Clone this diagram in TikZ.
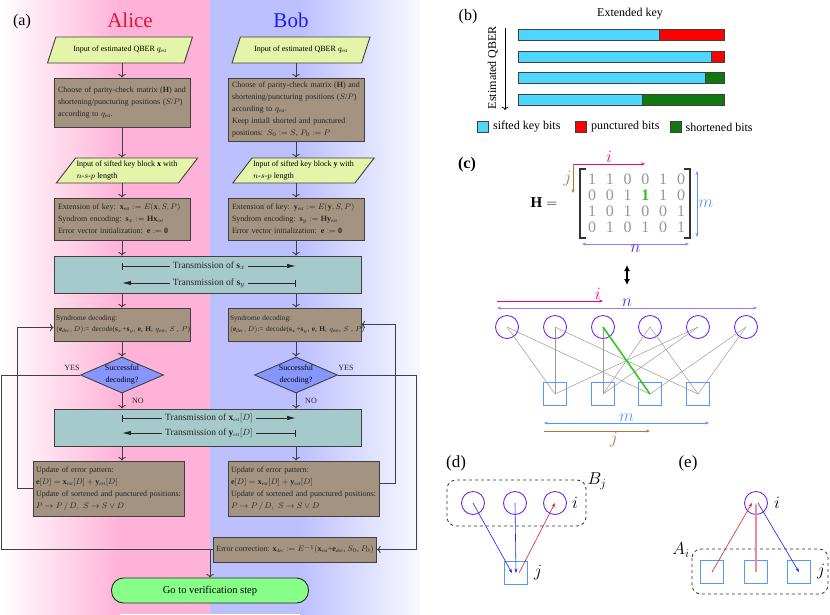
\documentclass[tikz,border=0pt]{standalone}
\usepackage{fontspec}
\setmainfont{Liberation Serif}
\usetikzlibrary{positioning, shapes.geometric, arrows.meta}
\definecolor{pinkbg}{RGB}{255,178,215}
\definecolor{bluebg}{RGB}{188,192,255}
\definecolor{ioyellow}{RGB}{228,244,168}
\definecolor{procbrown}{RGB}{163,147,128}
\definecolor{transteal}{RGB}{166,202,204}
\definecolor{decblue}{RGB}{135,150,255}
\definecolor{goalgreen}{RGB}{136,255,136}
\definecolor{boxline}{RGB}{64,64,64}
\definecolor{alicered}{RGB}{225,20,60}
\definecolor{bobblue}{RGB}{30,30,240}
\definecolor{sifted}{RGB}{77,215,255}
\definecolor{punc}{RGB}{255,0,0}
\definecolor{shortgreen}{RGB}{16,120,16}
\definecolor{hgray}{RGB}{150,150,150}
\definecolor{hgreen}{RGB}{40,200,20}
\definecolor{vcol}{RGB}{110,40,240}
\definecolor{ccol}{RGB}{80,155,255}
\definecolor{ncol}{RGB}{150,120,255}
\definecolor{nlab}{RGB}{90,40,230}
\definecolor{jcol}{RGB}{170,120,60}
\definecolor{mcol}{RGB}{80,150,255}
\definecolor{redarr}{RGB}{220,30,60}
\definecolor{bluearr}{RGB}{30,30,255}
\definecolor{pinkarr}{RGB}{240,140,160}
\newcommand{\bxfont}{\fontsize{8}{12}\selectfont}
\newcommand{\sdfont}{\fontsize{7.3}{11}\selectfont}
\newcommand{\pnfont}{\fontsize{16}{16}\selectfont}
\newcommand{\sbt}[1]{\mbox{\fontsize{5}{5}\selectfont\itshape #1}}

\begin{document}
\begin{tikzpicture}[
  x=1pt, y=-1pt, >=To,
  io/.style={trapezium, trapezium left angle=48, trapezium right angle=132, trapezium stretches body,
    draw=boxline, fill=ioyellow, line width=0.9pt, font=\bxfont, align=left, inner sep=1pt},
  proc/.style={rectangle, draw=boxline, fill=procbrown, line width=0.9pt, font=\bxfont, text=black!85,
    align=left, inner xsep=4pt, inner ysep=2pt},
  trans/.style={rectangle, draw=boxline, fill=transteal, line width=0.9pt, minimum width=307pt, minimum height=37pt},
  txlbl/.style={fill=transteal, inner xsep=3pt, inner ysep=1pt, font=\fontsize{9.5}{10}\selectfont, text=black!85},
  txr/.style={line width=0.9pt, draw=black!85, {Bar[width=7pt]}-{Latex[length=9pt,width=4.5pt]}},
  txl/.style={line width=0.9pt, draw=black!85, {Latex[length=9pt,width=4.5pt]}-{Bar[width=7pt]}},
  decide/.style={diamond, draw=boxline, fill=decblue, line width=0.9pt, font=\bxfont, align=center,
    aspect=2.3, inner sep=0pt, minimum width=83pt, minimum height=36pt},
  goal/.style={rectangle, rounded corners=12pt, draw=black!85, fill=goalgreen, line width=0.9pt,
    minimum width=197pt, minimum height=25pt, font=\fontsize{10.5}{11}\selectfont},
  flow/.style={->, line width=0.9pt, draw=boxline},
  link/.style={line width=0.9pt, draw=boxline},
  yn/.style={font=\bxfont, text=black!85},
  barline/.style={draw=black!75, line width=0.9pt},
  legbox/.style={draw=black!75, line width=0.8pt, minimum size=11pt, inner sep=0pt},
  legtxt/.style={font=\fontsize{12}{12}\selectfont, inner sep=1pt},
  hent/.style={text=hgray, font=\fontsize{16}{16}\selectfont, inner sep=0pt},
  hsel/.style={text=hgreen, font=\fontsize{16}{16}\selectfont\bfseries, inner sep=0pt},
  brk/.style={draw=black!80, line width=1.1pt},
  iarr/.style={draw=magenta, line width=0.6pt, -{Stealth[length=4pt,width=3pt]}},
  jarr/.style={draw=jcol, line width=0.6pt, -{Stealth[length=4pt,width=3pt]}},
  marr/.style={draw=mcol, line width=0.6pt, {Stealth[length=4pt,width=3pt]}-{Stealth[length=4pt,width=3pt]}},
  narr/.style={draw=ncol, line width=0.8pt, {Stealth[length=4pt,width=3pt]}-{Stealth[length=4pt,width=3pt]}},
  lab/.style={font=\pnfont, inner sep=1pt},
  vnode/.style={circle, draw=vcol, line width=0.9pt, minimum size=23pt, inner sep=0pt},
  cnode/.style={rectangle, draw=ccol, line width=0.9pt, minimum size=23pt, inner sep=0pt},
  tedge/.style={draw=gray!80, line width=0.5pt},
  tsel/.style={draw=hgreen, line width=1.5pt},
  grp/.style={draw=black!80, dashed, line width=0.8pt, rounded corners=9pt},
  msg/.style={line width=0.6pt, -{Stealth[length=4.5pt,width=3pt]}}]
  \useasboundingbox (0,0) rectangle (830,614);
  % backgrounds of the two parties
  \shade[left color=white, right color=pinkbg] (0,0) rectangle (120,614);
  \fill[pinkbg] (120,0) rectangle (210,614);
  \fill[bluebg] (210,0) rectangle (300,614);
  \shade[left color=bluebg, right color=white!90!bluebg] (300,0) rectangle (420,614);
  % (a) titles
  \node[font=\pnfont] (lbla) at (22,22) {(a)};
  \node[font=\fontsize{21}{21}\selectfont, text=alicered] (alice) at (130,20) {Alice};
  \node[font=\fontsize{21}{21}\selectfont, text=bobblue] (bob) at (291,20) {Bob};
  % Alice column
  \node[io, minimum width=145pt, minimum height=26pt] (inA) at (120,50) {Input of estimated QBER $q_{\sbt{est}}$};
  \node[proc, minimum width=136pt, minimum height=49pt, text width=128pt] (chA) at (122,102.5)
    {Choose of parity-check matrix ($\mathbf{H}$) and\\ shortening/puncturing positions ($S$/$P$)\\ according to $q_{\sbt{est}}$.};
  \node[io, minimum width=135pt, minimum height=25pt] (kyA) at (127,170.5)
    {Input of sifted key block $\mathbf{x}$ with\\ $n$-$s$-$p$ length};
  \node[proc, minimum width=136pt, minimum height=42pt, text width=128pt] (exA) at (122,219)
    {Extension of key: $\mathbf{x}_{\sbt{ext}} := E(\mathbf{x}, S, P)$\\ Syndrom encoding: $\mathbf{s}_x := \mathbf{H}\mathbf{x}_{\sbt{ext}}$\\ Error vector initialization: $\mathbf{e} := \mathbf{0}$};
  \node[proc, font=\sdfont, minimum width=136pt, minimum height=33pt, text width=132pt, inner xsep=2pt] (sdA) at (122,324.5)
    {Syndrome decoding:\\ \mbox{$(\mathbf{e}_{\sbt{dec}}, D)$:= decode($\mathbf{s}_x$+$\mathbf{s}_y$, $\mathbf{e}$, $\mathbf{H}$, $q_{\sbt{est}}$, $S$ , $P$)}};
  \node[decide] (dA) at (122,375) {Successful\\ decoding?};
  \node[proc, minimum width=151pt, minimum height=55pt, text width=145pt, inner xsep=3pt] (upA) at (108.5,488.5)
    {Update of error pattern:\\ $\mathbf{e}[D] = \mathbf{x}_{\sbt{ext}}[D] + \mathbf{y}_{\sbt{ext}}[D]$\\ \mbox{Update of sortened and punctured positions:}\\ $P \rightarrow P \,/\, D,\ S \rightarrow S \vee D$};
  % Bob column
  \node[io, minimum width=138pt, minimum height=26pt] (inB) at (301,50) {Input of estimated QBER $q_{\sbt{est}}$};
  \node[proc, minimum width=136pt, minimum height=63pt, text width=128pt] (chB) at (296,109.5)
    {Choose of parity-check matrix ($\mathbf{H}$) and\\ shortening/puncturing positions ($S$/$P$)\\ according to $q_{\sbt{est}}$.\\ Keep intiall shorted and punctured\\ positions: $S_0 := S$, $P_0 := P$};
  \node[io, minimum width=127pt, minimum height=25pt] (kyB) at (303.5,170.5)
    {Input of sifted key block $\mathbf{y}$ with\\ $n$-$s$-$p$ length};
  \node[proc, minimum width=136pt, minimum height=42pt, text width=128pt] (exB) at (296,219)
    {Extension of key: $\mathbf{y}_{\sbt{ext}} := E(\mathbf{y}, S, P)$\\ Syndrom encoding: $\mathbf{s}_y := \mathbf{H}\mathbf{y}_{\sbt{ext}}$\\ Error vector initialization: $\mathbf{e} := \mathbf{0}$};
  \node[proc, font=\sdfont, minimum width=133pt, minimum height=33pt, text width=129pt, inner xsep=2pt] (sdB) at (294.5,324.5)
    {Syndrome decoding:\\ \mbox{$(\mathbf{e}_{\sbt{dec}}, D)$:= decode($\mathbf{s}_x$+$\mathbf{s}_y$, $\mathbf{e}$, $\mathbf{H}$, $q_{\sbt{est}}$, $S$ , $P$)}};
  \node[decide] (dB) at (296,375) {Successful\\ decoding?};
  \node[proc, minimum width=151pt, minimum height=55pt, text width=145pt, inner xsep=3pt] (upB) at (303.5,488.5)
    {Update of error pattern:\\ $\mathbf{e}[D] = \mathbf{x}_{\sbt{ext}}[D] + \mathbf{y}_{\sbt{ext}}[D]$\\ \mbox{Update of sortened and punctured positions:}\\ $P \rightarrow P \,/\, D,\ S \rightarrow S \vee D$};
  \node[proc, minimum width=144pt, minimum height=25pt, inner xsep=3pt] (ec) at (295,549.5)
    {Error correction: $\mathbf{x}_{\sbt{dec}} := E^{-1}(\mathbf{x}_{\sbt{ext}}$+$\mathbf{e}_{\sbt{dec}}$, $S_0$, $P_0)$};
  % shared boxes
  \node[trans] (tr1) at (207.5,274.5) {};
  \node[trans] (tr2) at (207.5,427.5) {};
  \node[goal] (go) at (210,590.5) {Go to verification step};
  % messages between the parties
  \coordinate (sxL) at (122,266); \coordinate (sxR) at (296,266);
  \coordinate (syL) at (122,283); \coordinate (syR) at (296,283);
  \coordinate (xdL) at (122,418); \coordinate (xdR) at (296,418);
  \coordinate (ydL) at (122,433); \coordinate (ydR) at (296,433);
  \draw[txr] (sxL) -- node[txlbl] {Transmission of $\mathbf{s}_x$} (sxR);
  \draw[txl] (syL) -- node[txlbl] {Transmission of $\mathbf{s}_y$} (syR);
  \draw[txr] (xdL) -- node[txlbl] {Transmission of $\mathbf{x}_{\sbt{ext}}[D]$} (xdR);
  \draw[txl] (ydL) -- node[txlbl] {Transmission of $\mathbf{y}_{\sbt{ext}}[D]$} (ydR);
  % main flow
  \draw[flow] (inA.south -| chA) -- (chA.north);
  \draw[flow] (chA.south) -- (kyA.north -| chA);
  \draw[flow] (kyA.south -| chA) -- (exA.north);
  \draw[flow] (exA.south) -- (tr1.north -| exA);
  \draw[flow] (tr1.south -| sdA) -- (sdA.north);
  \draw[flow] (sdA.south) -- (dA.north);
  \draw[flow] (dA.south) -- (tr2.north -| dA);
  \draw[flow] (tr2.south -| dA) -- (upA.north -| dA);
  \draw[flow] (inB.south -| chB) -- (chB.north);
  \draw[flow] (chB.south) -- (kyB.north -| chB);
  \draw[flow] (kyB.south -| chB) -- (exB.north);
  \draw[flow] (exB.south) -- (tr1.north -| exB);
  \draw[flow] (tr1.south -| dB) -- (sdB.north -| dB);
  \draw[flow] (sdB.south -| dB) -- (dB.north);
  \draw[flow] (dB.south) -- (tr2.north -| dB);
  \draw[flow] (tr2.south -| dB) -- (upB.north -| dB);
  % loops and exits
  \coordinate (lx1) at (1,0); \coordinate (lx2) at (17,0);
  \coordinate (rx1) at (416,0); \coordinate (rx2) at (395,0);
  \coordinate (sdAin) at ([yshift=-3pt]sdA.west);
  \coordinate (upBout) at ([yshift=5pt]upB.east);
  \draw[link] (dA.west) -- (dA.west -| lx1) |- (ec.west);
  \draw[flow] (ec.west -| go) -- (go.north);
  \draw[flow] (dB.east) -- (dB.east -| rx1) |- (ec.east);
  \draw[flow] (upA.west) -- (upA.west -| lx2) |- (sdAin);
  \draw[flow] (upBout) -- (upBout -| rx2) |- (sdB.east);
  \node[yn] (yesA) at (72,368) {YES};
  \node[yn] (yesB) at (346,368) {YES};
  \node[yn] (noA) at (138,401) {NO};
  \node[yn] (noB) at (311,401) {NO};
  % (b) extended key
  \node[font=\pnfont] (lblb) at (468,17) {(b)};
  \node[legtxt] (extkey) at (630,14) {Extended key};
  \foreach \y/\s/\c in {35/659/punc, 56.5/711/punc, 78/705/shortgreen, 99.5/642/shortgreen}{
    \fill[sifted] (518,\y-5.5) rectangle (\s,\y+5.5);
    \fill[\c] (\s,\y-5.5) rectangle (724,\y+5.5);
    \draw[barline] (518,\y-5.5) rectangle (724,\y+5.5);
    \draw[barline] (\s,\y-5.5) -- (\s,\y+5.5);
  }
  \node[legtxt, rotate=90] (qber) at (493,67.5) {Estimated QBER};
  \coordinate (qtop) at (505,28); \coordinate (qbot) at (505,110);
  \draw[->, line width=0.8pt] (qtop) -- (qbot);
  \node[legbox, fill=sifted] (lg1) at (483,127) {};
  \node[legtxt, right=3pt of lg1] (lt1) {sifted key bits};
  \node[legbox, fill=punc] (lg2) at (581,127) {};
  \node[legtxt, right=3pt of lg2] (lt2) {punctured bits};
  \node[legbox, fill=shortgreen] (lg3) at (675.5,127) {};
  \node[legtxt, right=3pt of lg3] (lt3) {shortened bits};
  % (c) parity-check matrix
  \node[font=\pnfont\bfseries] (lblc) at (467,165) {(c)};
  \node[font=\fontsize{15}{15}\selectfont] (Heq) at (544,203) {$\mathbf{H} =$};
  \foreach \row [count=\j] in {{1,1,0,0,1,0},{0,0,1,1,1,0},{1,0,1,0,0,1},{0,1,0,1,0,1}}{
    \foreach \v [count=\i] in \row {
      \def\hst{hent}
      \ifnum\j=2 \ifnum\i=4 \def\hst{hsel}\fi\fi
      \node[\hst] (h\j\i) at (574.2+17.8*\i,163+16*\j) {\v};
    }
  }
  \draw[brk] (586,169) -| (580,238) -- (586,238);
  \draw[brk] (684,169) -| (690,238) -- (684,238);
  \coordinate (ij0) at (573,164); \coordinate (iend) at (645,164); \coordinate (jend) at (573,193);
  \draw[iarr] (ij0) -- node[lab, above, text=magenta] {$i$} (iend);
  \draw[jarr] (ij0) -- node[lab, left, text=jcol] {$j$} (jend);
  \coordinate (mtop) at (697,171); \coordinate (mbot) at (697,237);
  \draw[marr] (mtop) -- node[lab, right, text=mcol] {$m$} (mbot);
  \coordinate (nleft) at (582,244); \coordinate (nright) at (689,244);
  \draw[narr] (nleft) -- node[lab, below, text=nlab] {$n$} (nright);
  \coordinate (eqtop) at (627,265); \coordinate (eqbot) at (627,285);
  \draw[{Latex[length=6pt,width=6pt]}-{Latex[length=6pt,width=6pt]}, line width=1.1pt] (eqtop) -- (eqbot);
  % Tanner graph
  \foreach \x [count=\k] in {507,555,603,650,698,746} \node[vnode] (v\k) at (\x,327) {};
  \foreach \x [count=\k] in {555,603,650,698} \node[cnode] (c\k) at (\x,394) {};
  \foreach \a/\b in {1/1,2/1,5/1,3/2,4/2,5/2,1/3,6/3,2/4,4/4,6/4}
    \draw[tedge] (v\a.center) -- (c\b.center);
  \draw[tsel] (v3.center) -- (c3.center);
  \coordinate (tiL) at (497,301); \coordinate (tiR) at (603,301);
  \draw[iarr] (tiL) -- node[lab, above, pos=0.95, text=magenta] {$i$} (tiR);
  \coordinate (tnL) at (497,308); \coordinate (tnR) at (757,308);
  \draw[narr] (tnL) -- node[lab, above, text=nlab] {$n$} (tnR);
  \coordinate (tmL) at (544,423); \coordinate (tmR) at (709,423);
  \draw[marr] (tmL) -- node[lab, above, text=mcol] {$m$} (tmR);
  \coordinate (tjL) at (544,431); \coordinate (tjR) at (650,431);
  \draw[jarr] (tjL) -- node[lab, below, pos=0.66, text=jcol] {$j$} (tjR);
  % (d) check node update
  \node[font=\fontsize{17}{17}\selectfont] (lbld) at (456,463) {(d)};
  \draw[grp] (447,480) rectangle (586,526);
  \foreach \x [count=\k] in {473,515,555} \node[vnode] (d\k) at (\x,503) {};
  \node[cnode] (dj) at (516,573) {};
  \node[lab, font=\fontsize{18}{18}\selectfont] (dil) at (575,503) {$i$};
  \node[lab, font=\fontsize{18}{18}\selectfont] (djl) at (538,573) {$j$};
  \node[lab, font=\fontsize{18}{18}\selectfont] (dBj) at (597,481) {$B_j$};
  \draw[msg, bluearr] (d1.center) -- ([xshift=-4pt]dj.center);
  \draw[msg, bluearr] (d2.center) -- (dj.center);
  \draw[msg, redarr] ([xshift=3pt]dj.center) -- (d3.center);
  % (e) variable node update
  \node[font=\fontsize{17}{17}\selectfont] (lble) at (688,463) {(e)};
  \draw[grp] (692,549) rectangle (828,594);
  \node[vnode] (ei) at (756,503) {};
  \foreach \x [count=\k] in {712,756,799} \node[cnode] (e\k) at (\x,572) {};
  \node[lab, font=\fontsize{18}{18}\selectfont] (eil) at (777,503) {$i$};
  \node[lab, font=\fontsize{18}{18}\selectfont] (ejl) at (821,572) {$j$};
  \node[lab, font=\fontsize{18}{18}\selectfont] (eAi) at (681,550) {$A_i$};
  \draw[msg, redarr] (e1.center) -- ([xshift=-4pt]ei.center);
  \draw[msg, pinkarr, line width=1.4pt] (e2.center) -- (ei.center);
  \draw[msg, bluearr] ([xshift=2pt]ei.center) -- (e3.center);
\end{tikzpicture}
\end{document}
